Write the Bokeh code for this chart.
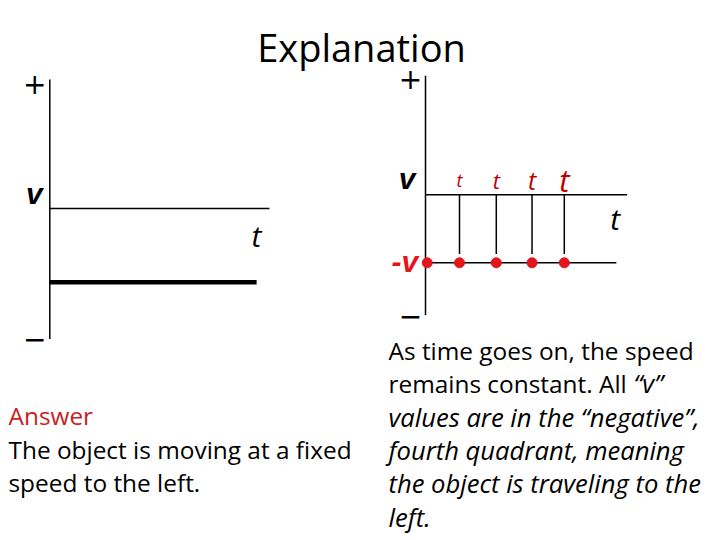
from bokeh.plotting import figure
from bokeh.models import Range1d
from bokeh.embed import file_html
from bokeh.resources import INLINE
from bokeh.core.properties import value

# ---------------- data ----------------
left_t = [0.0, 5.96]            # constant negative velocity (left graph)
left_v = [-1.0, -1.0]
right_t = [0.05, 0.98, 2.04, 3.07, 4.0]   # sampled times (right graph)
right_v = [-1.0, -1.0, -1.0, -1.0, -1.0]
t_label_sizes = ["18px", "22px", "25px", "31px"]
v_axis_extent = [-1.77, 1.75]
left_t_axis_end = 6.33
right_t_axis_end = 5.81
right_ref_line_end = 5.5

title_text = "Explanation"
answer_head = "Answer"
answer_lines = ["The object is moving at a fixed", "speed to the left."]
expl_upright_1 = "As time goes on, the speed"
expl_line2_a = "remains constant. All"
expl_line2_b = "\u201cv\u201d"
expl_italic = ["values are in the \u201cnegative\u201d,",
               "fourth quadrant, meaning",
               "the object is traveling to the",
               "left."]

RED = "#e3161b"
DARK_RED = "#c00000"
FONT = "Open Sans"
BODY = "24.4px"
BODY_IT = "25.6px"

W, H = 720, 540

p = figure(width=W, height=H, x_range=Range1d(0, W), y_range=Range1d(H, 0),
           output_backend="svg", toolbar_location=None, tools="",
           x_axis_location=None, y_axis_location=None, min_border=0,
           outline_line_color=None, background_fill_color="white",
           border_fill_color="white")
p.grid.grid_line_color = None


def add_chart_ranges(name, origin, px_t, px_v):
    ox, oy = origin
    p.extra_x_ranges[name + "x"] = Range1d(-ox / px_t, (W - ox) / px_t)
    p.extra_y_ranges[name + "y"] = Range1d(-(H - oy) / px_v, oy / px_v)
    return dict(x_range_name=name + "x", y_range_name=name + "y")


def axes(rk, t_end, vlabel_off, tlabel_off, plus_off, minus_off):
    p.line([0, 0], v_axis_extent, line_color="black", line_width=1.5, **rk)
    p.line([0, t_end], [0, 0], line_color="black", line_width=1.5, **rk)
    p.text([0], [v_axis_extent[1]], text=["+"], x_offset=plus_off[0], y_offset=plus_off[1],
           text_align="center", text_baseline="middle", text_font=value("DejaVu Sans"),
           text_font_size="28px", text_color="black", **rk)
    p.text([0], [v_axis_extent[0]], text=["\u2212"], x_offset=minus_off[0], y_offset=minus_off[1],
           text_align="center", text_baseline="middle", text_font=value("DejaVu Sans"),
           text_font_size="28px", text_color="black", **rk)
    p.text([0], [0], text=["v"], x_offset=vlabel_off[0], y_offset=vlabel_off[1],
           text_align="right", text_baseline="middle", text_font=value("Liberation Sans"),
           text_font_style="bold italic", text_font_size="30px", text_color="black", **rk)
    p.text([t_end], [0], text=["t"], x_offset=tlabel_off[0], y_offset=tlabel_off[1],
           text_align="center", text_baseline="middle", text_font=value(FONT),
           text_font_style="italic", text_font_size="30px", text_color="black", **rk)


# ---------------- title ----------------
p.text([361], [46], text=[title_text], text_align="center", text_baseline="middle",
       text_font=value(FONT), text_font_size="38px", text_color="black")

# ---------------- left graph ----------------
lk = add_chart_ranges("l", (49.3, 208), 34.7, 73.7)
axes(lk, left_t_axis_end, (-7, -15), (-13, 27), (-15, 4), (-15, 0))
p.line(left_t, left_v, line_color="black", line_width=4.5, line_cap="butt", **lk)

# ---------------- right graph ----------------
rk = add_chart_ranges("r", (425, 194.3), 34.7, 68)
axes(rk, right_t_axis_end, (-10, -16), (-12, 24), (-15, 3), (-15, 0))
p.line([0, right_ref_line_end], [right_v[0], right_v[0]], line_color="black",
       line_width=1.5, **rk)
stem_t = right_t[1:]
p.segment(x0=stem_t, y0=[0] * len(stem_t), x1=stem_t,
          y1=[v * 0.87 for v in right_v[1:]], line_color="black", line_width=1.5, **rk)
p.scatter(right_t, right_v, size=10, fill_color=RED, line_color=RED, **rk)
for tt, fs in zip(stem_t, t_label_sizes):
    p.text([tt], [0], text=["t"], y_offset=-15, text_align="center",
           text_baseline="middle", text_font=value(FONT), text_font_style="italic",
           text_font_size=fs, text_color=DARK_RED, **rk)
p.text([right_t[0]], [right_v[0]], text=["-v"], x_offset=-9, y_offset=-1,
       text_align="right", text_baseline="middle", text_font=value("Liberation Sans"),
       text_font_style="bold italic", text_font_size="30px", text_color=RED, **rk)

# ---------------- left text ----------------
p.text([8], [414.5], text=[answer_head], text_baseline="middle", text_font=value(FONT),
       text_font_size=BODY, text_color="#c81e1e")
p.text([8, 8], [448.5, 481.5], text=answer_lines, text_baseline="middle",
       text_font=value(FONT), text_font_size=BODY, text_color="black")

# ---------------- right text ----------------
p.text([388], [349.5], text=[expl_upright_1], text_baseline="middle",
       text_font=value(FONT), text_font_size=BODY, text_color="black")
p.text([388], [382.5], text=[expl_line2_a], text_baseline="middle",
       text_font=value(FONT), text_font_size=BODY, text_color="black")
p.text([633], [382.5], text=[expl_line2_b], text_baseline="middle", text_align="left",
       text_font=value(FONT), text_font_style="italic", text_font_size=BODY_IT,
       text_color="black")
p.text([388] * 4, [416.5, 449.5, 482.5, 516.5], text=expl_italic, text_baseline="middle",
       text_font=value(FONT), text_font_style="italic", text_font_size=BODY_IT,
       text_color="black")

open("out.html", "w").write(file_html(p, INLINE))
